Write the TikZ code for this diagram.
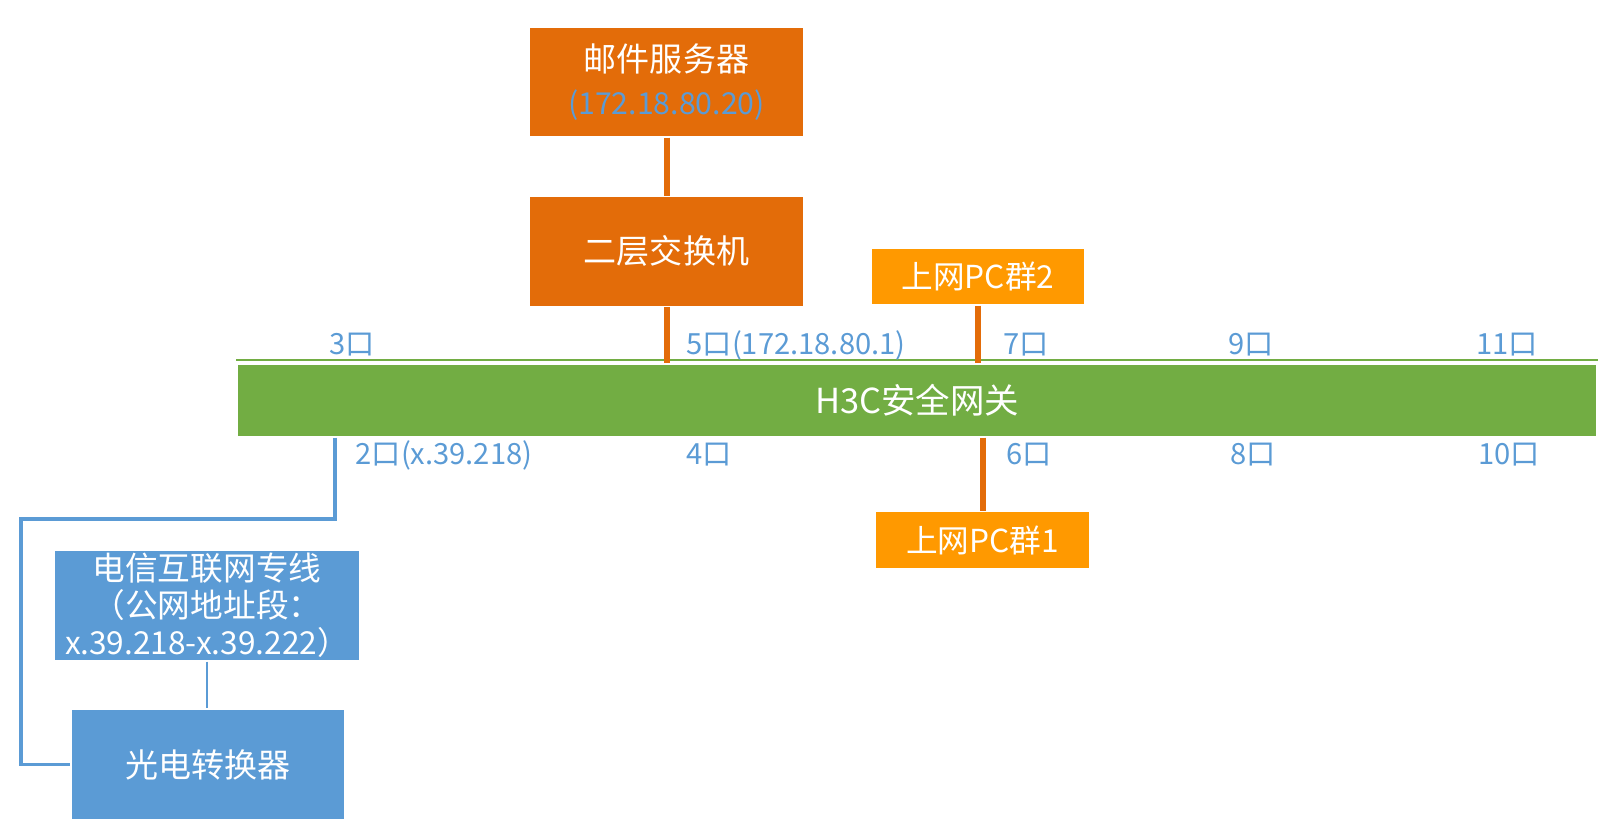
\documentclass[tikz,border=0pt]{standalone}
\usepackage{fontspec}
\setmainfont{Noto Sans CJK SC}
\usetikzlibrary{positioning,calc}

\definecolor{darkorg}{HTML}{E36C09}
\definecolor{pcorg}{HTML}{FF9900}
\definecolor{gwgreen}{HTML}{72AD43}
\definecolor{netblue}{HTML}{5B9BD5}

\begin{document}
\begin{tikzpicture}[
    box/.style={draw=white, line width=0.4pt, fill=darkorg, text=white, minimum width=2.75cm, minimum height=1.1cm, align=center, inner sep=0pt, font=\fontsize{9.4}{12}\selectfont},
    pcbox/.style={box, fill=pcorg, minimum width=2.14cm, minimum height=0.57cm, font=\fontsize{9}{11}\selectfont},
    netbox/.style={box, fill=netblue},
    port/.style={text=netblue, inner sep=0pt, font=\fontsize{8.3}{10}\selectfont},
    wire/.style={darkorg, line width=1.7pt},
    bluewire/.style={netblue, line width=1.1pt}
]
\useasboundingbox (0,0) rectangle (16.12,-8.34);

% gateway bar
\node[box, fill=gwgreen, minimum width=13.6cm, minimum height=0.73cm, font=\fontsize{9.8}{12}\selectfont] (gw) at (9.17,-4.005) {H3C安全网关};
\draw[gwgreen, line width=0.5pt] ($(gw.north west)+(0,0.03)$) -- ($(gw.north east)+(0,0.03)$);

% servers above
\node[box] (mail) at (6.665,-0.82) {邮件服务器\\{\fontsize{8.6}{12}\selectfont\color{netblue}(172.18.80.20)}};
\node[box, below=0.58cm of mail] (sw) {二层交换机};

% PC groups
\node[pcbox] (pc2) at (9.78,-2.765) {上网PC群2};
\node[pcbox] (pc1) at (9.825,-5.40) {上网PC群1};

% line side
\node[netbox, minimum width=3.06cm, minimum height=1.11cm, font=\fontsize{9.3}{10.5}\selectfont] (tel) at (2.07,-6.055) {电信互联网专线\\（公网地址段：\\{\fontsize{9}{10.5}\selectfont x.39.218-x.39.222）}};
\node[netbox, minimum width=2.74cm, minimum height=1.11cm] (conv) at (2.08,-7.645) {光电转换器};

% ports
\node[port] (p3) at (3.52,-3.45) {3口};
\node[port, anchor=west] (p5) at (6.86,-3.45) {5口(172.18.80.1)};
\node[port] (p7) at (10.26,-3.45) {7口};
\node[port] (p9) at (12.51,-3.45) {9口};
\node[port] (p11) at (15.07,-3.45) {11口};
\node[port, anchor=west] (pp2) at (3.55,-4.55) {2口(x.39.218)};
\node[port] (p4) at (7.09,-4.55) {4口};
\node[port] (p6) at (10.29,-4.55) {6口};
\node[port] (p8) at (12.53,-4.55) {8口};
\node[port] (p10) at (15.09,-4.55) {10口};

% links
\draw[wire] (mail.south) -- (sw.north);
\draw[wire] (sw.south) -- (sw.south |- gw.north);
\draw[wire] (pc2.south) -- (pc2.south |- gw.north);
\draw[wire] (pc1.north |- gw.south) -- (pc1.north);

\coordinate (gw2) at ($(gw.south west)+(0.99,0)$);
\draw[bluewire] (gw2) |- (0.21,-5.19) |- (conv.west);
\draw[netblue, line width=0.5pt] (tel.south) -- (tel.south |- conv.north);

\end{tikzpicture}
\end{document}
